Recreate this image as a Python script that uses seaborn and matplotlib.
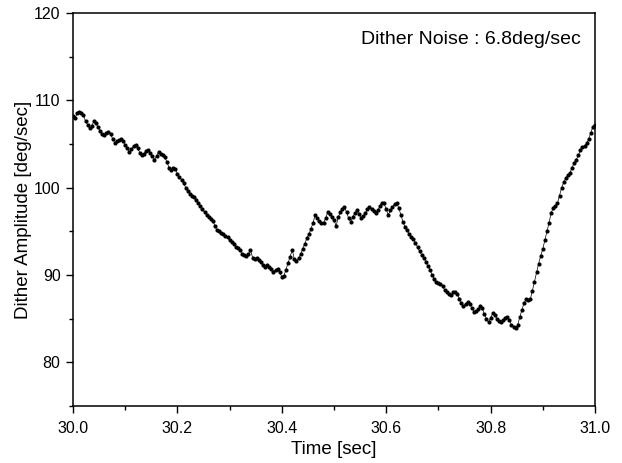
import numpy as np
import pandas as pd
import matplotlib
matplotlib.use("Agg")
import matplotlib.pyplot as plt
import seaborn as sns
from matplotlib.ticker import MultipleLocator

# time axis: 251 samples from 30.000 s to 31.000 s
time_start = 30.0
time_step = 0.004
amplitude = [
    108.2, 108.0, 108.5, 108.7, 108.5, 108.3, 107.6, 107.2, 106.8, 107.1,
    107.6, 107.4, 106.9, 106.5, 106.1, 106.0, 106.3, 106.4, 106.1, 105.6,
    105.1, 105.3, 105.5, 105.6, 105.3, 104.9, 104.5, 104.1, 104.4, 104.8,
    104.9, 104.5, 104.0, 103.7, 103.9, 104.2, 104.3, 104.0, 103.6, 103.2,
    103.6, 104.1, 103.9, 103.7, 103.5, 102.9, 102.3, 102.0, 102.2, 102.1,
    101.6, 101.2, 100.9, 100.5, 100.0, 99.6, 99.3, 99.1, 98.9, 98.6,
    98.2, 97.9, 97.5, 97.2, 96.9, 96.6, 96.4, 96.2, 95.6, 95.1,
    95.0, 94.8, 94.7, 94.5, 94.3, 94.0, 93.8, 93.6, 93.2, 93.1,
    92.9, 92.4, 92.3, 92.2, 92.4, 92.9, 92.0, 91.8, 91.9, 91.7,
    91.5, 91.2, 90.9, 91.2, 90.9, 90.7, 90.4, 90.6, 90.7, 90.3,
    89.8, 89.9, 90.6, 91.4, 92.1, 92.9, 91.8, 91.6, 91.9, 92.4,
    93.0, 93.6, 94.2, 94.7, 95.3, 96.0, 96.9, 96.5, 96.2, 95.9,
    96.0, 96.5, 97.2, 97.0, 96.6, 96.3, 95.6, 96.6, 97.2, 97.6,
    97.8, 97.2, 96.5, 96.1, 96.6, 97.1, 97.4, 97.0, 96.5, 96.7,
    97.1, 97.5, 97.8, 97.6, 97.3, 97.1, 97.4, 97.9, 98.3, 98.2,
    97.5, 96.9, 97.4, 97.8, 98.1, 98.2, 97.7, 96.9, 96.1, 95.5,
    95.1, 94.7, 94.4, 94.1, 93.7, 93.2, 92.7, 92.3, 92.0, 91.5,
    91.0, 90.6, 90.0, 89.5, 89.2, 89.1, 89.0, 88.7, 88.3, 88.1,
    87.8, 87.7, 88.0, 88.1, 87.8, 87.3, 86.8, 86.4, 86.7, 86.9,
    86.7, 86.2, 85.8, 85.9, 86.1, 86.4, 86.2, 85.5, 85.0, 84.6,
    85.1, 85.6, 85.4, 85.0, 84.7, 84.6, 84.8, 85.1, 85.2, 84.8,
    84.3, 84.1, 83.9, 84.3, 85.2, 86.0, 86.8, 87.2, 87.1, 87.2,
    88.2, 89.2, 90.3, 91.3, 92.2, 93.0, 94.0, 95.0, 96.0, 97.1,
    97.7, 97.9, 98.2, 99.1, 100.0, 100.6, 101.1, 101.4, 101.7, 102.3,
    102.8, 103.2, 103.7, 104.3, 104.6, 104.8, 105.1, 105.6, 106.3, 107.0,
    107.2,
]
time = [round(time_start + time_step * i, 3) for i in range(len(amplitude))]

x_ticks = [30.0, 30.2, 30.4, 30.6, 30.8, 31.0]
y_ticks = [80, 90, 100, 110, 120]
annotation = "Dither Noise : 6.8deg/sec"

df = pd.DataFrame({"Time": time, "Amplitude": amplitude})

sns.set_theme(style="ticks")
plt.rcParams["font.family"] = ["Liberation Sans", "DejaVu Sans"]

fig = plt.figure(figsize=(6.22, 4.63), dpi=100)
ax = fig.add_axes([73 / 622, 1 - 406 / 463, (595 - 73) / 622, (406 - 13) / 463])

sns.lineplot(data=df, x="Time", y="Amplitude", ax=ax, color="black",
             linewidth=0.5, marker="o", markersize=3.0,
             markeredgewidth=0, markerfacecolor="black")

ax.set_xlim(30.0, 31.0)
ax.set_ylim(75, 120)
ax.set_xticks(x_ticks)
ax.set_xticklabels([f"{v:.1f}" for v in x_ticks])
ax.set_yticks(y_ticks)
ax.xaxis.set_minor_locator(MultipleLocator(0.1))
ax.yaxis.set_minor_locator(MultipleLocator(5))

for s in ax.spines.values():
    s.set_visible(True)
    s.set_color("black")
    s.set_linewidth(1.1)

ax.tick_params(axis="both", which="major", direction="out", length=5,
               width=1.0, color="black", labelsize=11.5, labelcolor="black")
ax.tick_params(axis="x", which="major", pad=5.5)
ax.tick_params(axis="y", which="major", pad=4)
ax.tick_params(axis="both", which="minor", direction="out", length=3,
               width=1.0, color="black")
ax.tick_params(top=False, right=False, which="both")

ax.set_xlabel("Time [sec]", fontsize=13.5, color="black", labelpad=4)
ax.set_ylabel("Dither Amplitude [deg/sec]", fontsize=13.5, color="black", labelpad=1)

ax.text(0.973, 0.955, annotation, transform=ax.transAxes, ha="right", va="top",
        fontsize=14, color="black")

fig.savefig("out.png", dpi=100)
